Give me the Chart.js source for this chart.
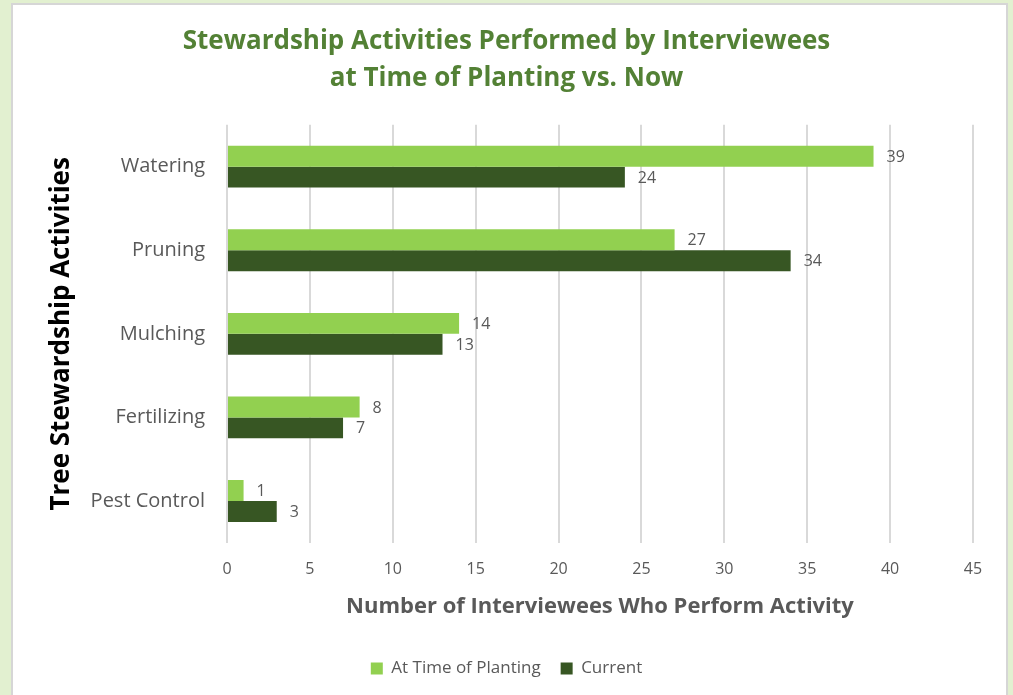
<!DOCTYPE html>
<html>
<head>
<meta charset="utf-8">
<script src="https://cdn.jsdelivr.net/npm/chart.js@4"></script>
<style>
  html, body { margin: 0; padding: 0; background: #e2f0d0; }
  #panel { position: absolute; left: 11px; top: 3px; width: 993px; height: 700px; background: #fff; border: 2px solid #d6d6d6; }
  #wrap { position: absolute; left: 0; top: 0; width: 1013px; height: 695px; }
</style>
</head>
<body>
<div id="panel"></div>
<div id="wrap"><canvas id="chart" width="1013" height="695"></canvas></div>
<script>
const activities = ['Watering', 'Pruning', 'Mulching', 'Fertilizing', 'Pest Control'];
const atPlanting = [39, 27, 14, 8, 1];
const current = [24, 34, 13, 7, 3];

const FONT = "'Open Sans', 'Noto Sans', sans-serif";

// values next to bar ends
const barLabels = {
    id: 'barLabels',
    afterDatasetsDraw(chart) {
        const ctx = chart.ctx;
        ctx.save();
        ctx.font = '16px ' + FONT;
        ctx.fillStyle = '#595959';
        ctx.textAlign = 'left';
        ctx.textBaseline = 'middle';
        chart.data.datasets.forEach((ds, i) => {
            chart.getDatasetMeta(i).data.forEach((bar, j) => {
                ctx.fillText(ds.data[j], bar.x + 13, bar.y + 1);
            });
        });
        ctx.restore();
    }
};

const ctx = document.getElementById('chart').getContext('2d');

new Chart(ctx, {
    type: 'bar',
    data: {
        labels: activities,
        datasets: [
            {
                label: 'At Time of Planting',
                data: atPlanting,
                backgroundColor: '#92d050'
            },
            {
                label: 'Current',
                data: current,
                backgroundColor: '#375623'
            }
        ]
    },
    options: {
        indexAxis: 'y',
        responsive: false,
        animation: false,
        categoryPercentage: 0.5,
        barPercentage: 1,
        layout: { padding: { left: 40, right: 40, top: 23, bottom: 8 } },
        plugins: {
            title: {
                display: true,
                text: ['Stewardship Activities Performed by Interviewees', 'at Time of Planting vs. Now'],
                color: '#538135',
                font: { family: FONT, size: 26, weight: 'bold', lineHeight: 1.42 },
                padding: { top: 0, bottom: 28 }
            },
            legend: {
                position: 'bottom',
                labels: {
                    color: '#595959',
                    font: { family: FONT, size: 17 },
                    boxWidth: 12,
                    boxHeight: 12,
                    padding: 20
                }
            },
            tooltip: { enabled: false }
        },
        scales: {
            x: {
                min: 0,
                max: 45,
                ticks: { stepSize: 5, color: '#595959', font: { family: FONT, size: 16 }, padding: 17 },
                grid: { color: '#d9d9d9', lineWidth: 2, drawTicks: false },
                border: { display: false },
                title: {
                    display: true,
                    text: 'Number of Interviewees Who Perform Activity',
                    color: '#595959',
                    font: { family: FONT, size: 22, weight: 'bold', lineHeight: 1.0 },
                    padding: { top: 0, bottom: 22 }
                }
            },
            y: {
                ticks: { color: '#595959', font: { family: FONT, size: 20 }, padding: 22 },
                grid: { display: false, drawTicks: false },
                border: { display: false },
                title: {
                    display: true,
                    text: 'Tree Stewardship Activities',
                    color: '#000000',
                    font: { family: FONT, size: 26, weight: 'bold' },
                    padding: { top: 6, bottom: 10 }
                },
                afterFit(scale) { scale.width = 187; }
            }
        }
    },
    plugins: [barLabels]
});
</script>
</body>
</html>
